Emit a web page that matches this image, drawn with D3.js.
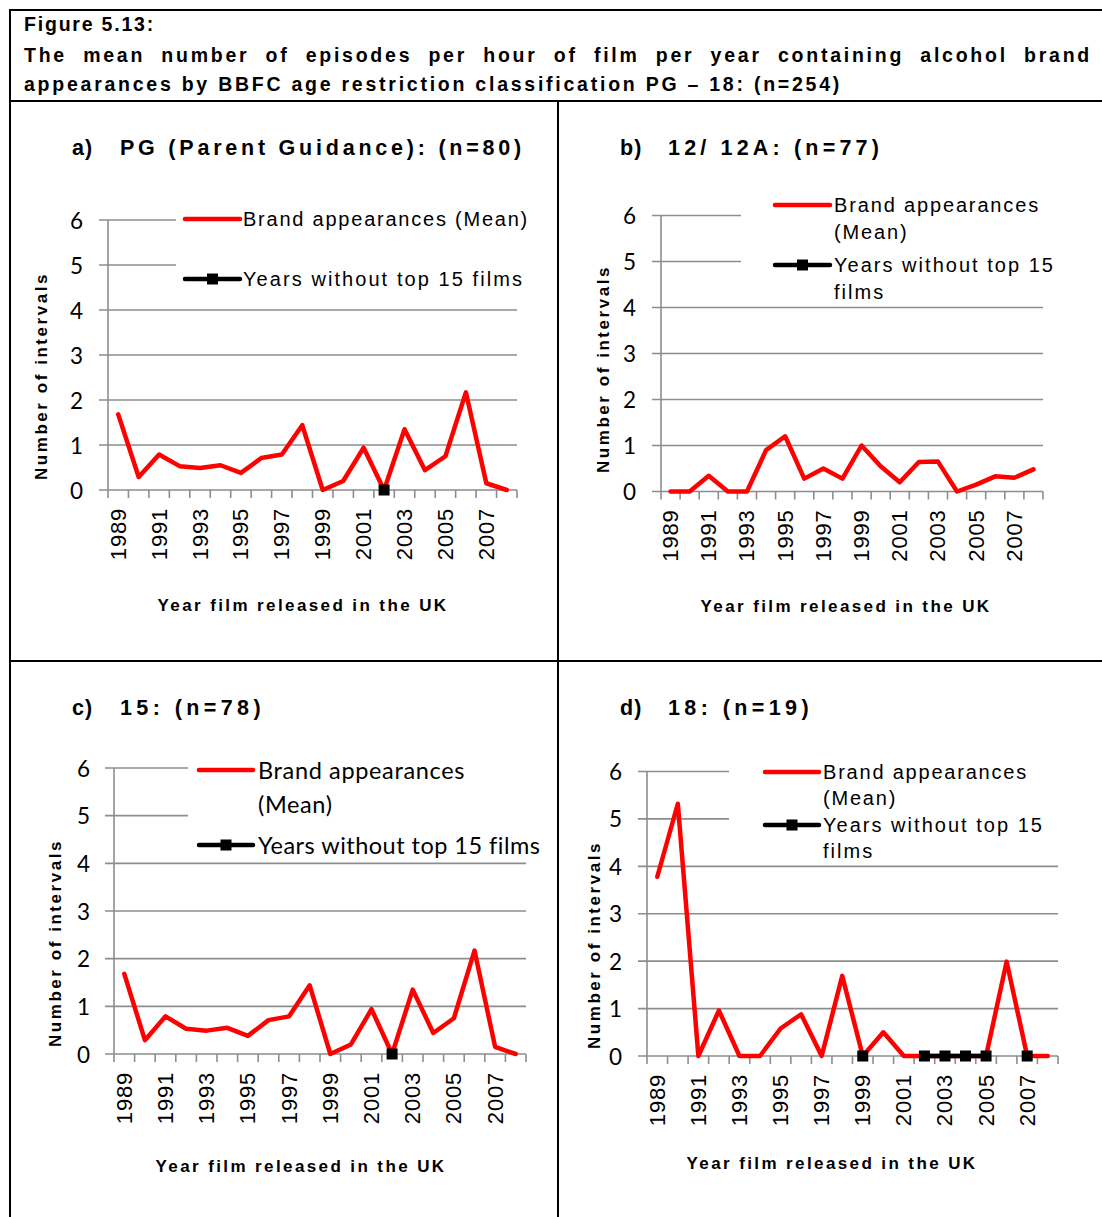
<!DOCTYPE html>
<html>
<head>
<meta charset="utf-8">
<script src="https://cdn.jsdelivr.net/npm/d3@7"></script>
<style>
  body { margin: 0; background: #fff; }
  svg { display: block; }
</style>
</head>
<body>
<svg id="fig" width="1102" height="1217"></svg>
<script>
// ---- data ----
const years = [1989, 1990, 1991, 1992, 1993, 1994, 1995, 1996, 1997, 1998,
               1999, 2000, 2001, 2002, 2003, 2004, 2005, 2006, 2007, 2008];
const yearTickLabels = ["1989", "1991", "1993", "1995", "1997", "1999", "2001", "2003", "2005", "2007"];
const valueTicks = [0, 1, 2, 3, 4, 5, 6];

// mean brand-appearance episodes per hour, by classification
const pgMean      = [1.68, 0.29, 0.79, 0.53, 0.49, 0.55, 0.38, 0.71, 0.79, 1.44, 0, 0.2, 0.94, 0, 1.35, 0.44, 0.75, 2.17, 0.15, 0];
const twelveMean  = [0, 0, 0.34, 0, 0, 0.9, 1.2, 0.28, 0.5, 0.28, 1.0, 0.55, 0.2, 0.64, 0.65, 0, 0.15, 0.33, 0.3, 0.48];
const fifteenMean = [1.68, 0.29, 0.79, 0.53, 0.49, 0.55, 0.38, 0.71, 0.79, 1.44, 0, 0.2, 0.94, 0, 1.35, 0.44, 0.75, 2.17, 0.15, 0];
const eighteenMean = [3.78, 5.32, 0, 0.96, 0, 0, 0.58, 0.88, 0, 1.69, 0, 0.5, 0, 0, 0, 0, 0, 1.99, 0, 0];

// years without any of the top 15 films (null = year had top films)
const pgGaps       = [null, null, null, null, null, null, null, null, null, null, null, null, null, 0, null, null, null, null, null, null];
const twelveGaps   = [null, null, null, null, null, null, null, null, null, null, null, null, null, null, null, null, null, null, null, null];
const fifteenGaps  = [null, null, null, null, null, null, null, null, null, null, null, null, null, 0, null, null, null, null, null, null];
const eighteenGaps = [null, null, null, null, null, null, null, null, null, null, 0, null, null, 0, 0, 0, 0, null, 0, null];

const headerLines = [
  "Figure 5.13:",
  "The mean number of episodes per hour of film per year containing alcohol brand",
  "appearances by BBFC age restriction classification PG \u2013 18: (n=254)"
];
const panelLetters = ["a)", "b)", "c)", "d)"];
const panelNames = ["PG (Parent Guidance): (n=80)", "12/ 12A: (n=77)", "15: (n=78)", "18: (n=19)"];
const yTitle = "Number of intervals";
const xTitle = "Year film released in the UK";

// ---- drawing ----
const svg = d3.select("#fig");
const ARIAL = "'Liberation Sans', Arial, sans-serif";
const CALIBRI = "Lato, 'Open Sans', sans-serif";
const GRID = "#8d8d8d";
const RED = "#ff0000";

// stretch a text element's tracking so that it spans `target` pixels
function fit(sel, target) {
  const n = sel.text().length;
  const w = sel.node().getComputedTextLength();
  const ls = (target - w) / n;
  sel.attr("letter-spacing", ls);
  return ls;
}

// table frame
const frame = svg.append("g").attr("stroke", "#000").attr("stroke-width", 2);
frame.append("line").attr("x1", 9).attr("x2", 1102).attr("y1", 10).attr("y2", 10);
frame.append("line").attr("x1", 10).attr("x2", 10).attr("y1", 9).attr("y2", 1217);
frame.append("line").attr("x1", 9).attr("x2", 1102).attr("y1", 101).attr("y2", 101);
frame.append("line").attr("x1", 9).attr("x2", 1102).attr("y1", 661).attr("y2", 661);
frame.append("line").attr("x1", 558).attr("x2", 558).attr("y1", 101).attr("y2", 1217);

// header
const hdr = svg.append("g").attr("font-family", ARIAL).attr("font-weight", "bold")
  .attr("font-size", 19.5).attr("fill", "#000");
const h1 = hdr.append("text").attr("x", 24).attr("y", 24).attr("dominant-baseline", "central").text(headerLines[0]);
fit(h1, 131);
const h3 = hdr.append("text").attr("x", 24).attr("y", 84).attr("dominant-baseline", "central").text(headerLines[2]);
const hls = fit(h3, 818);
// justified line: spread words across the full width
(function justify(line, x0, x1, y) {
  const words = line.split(" ");
  const nodes = words.map(w => hdr.append("text").attr("y", y).attr("dominant-baseline", "central")
    .attr("letter-spacing", hls).text(w));
  const widths = nodes.map(n => n.node().getComputedTextLength());
  const gap = (x1 - x0 - d3.sum(widths)) / (words.length - 1);
  let cx = x0;
  nodes.forEach((n, i) => { n.attr("x", cx); cx += widths[i] + gap; });
})(headerLines[1], 24, 1092, 55);

const panels = [
  { x0: 108, x1: 517, y0: 490, y6: 220, tickRight: 83, titleY: 148, lx: 72, nx: 120, nameW: 405,
    yTitleX: 41, yTitleY: 376, xTitleX: 303, xTitleY: 605,
    legend: { font: ARIAL, size: 20, l1: 185, l2: 240, tx: 243, lead: 27,
      items: [{ y: 219, lines: ["Brand appearances (Mean)"], w: 286 },
              { y: 279, lines: ["Years without top 15 films"], w: 281 }],
      bg: [176, 198, 350, 100] },
    mean: pgMean, gaps: pgGaps },
  { x0: 661, x1: 1043, y0: 491.5, y6: 215.5, tickRight: 636, titleY: 148, lx: 620, nx: 668, nameW: 215,
    yTitleX: 603, yTitleY: 369, xTitleX: 846, xTitleY: 606,
    legend: { font: ARIAL, size: 20, l1: 775, l2: 830, tx: 834, lead: 27,
      items: [{ y: 205, lines: ["Brand appearances", "(Mean)"], w: 206 },
              { y: 265, lines: ["Years without top 15", "films"], w: 221 }],
      bg: [741, 188, 310, 112] },
    mean: twelveMean, gaps: twelveGaps },
  { x0: 114, x1: 526, y0: 1054, y6: 768, tickRight: 90, titleY: 708, lx: 72, nx: 120, nameW: 145,
    yTitleX: 55, yTitleY: 943, xTitleX: 301, xTitleY: 1166,
    legend: { font: CALIBRI, size: 23.5, l1: 199, l2: 253, tx: 258, lead: 34,
      items: [{ y: 770, lines: ["Brand appearances", "(Mean)"], w: 207 },
              { y: 845, lines: ["Years without top 15 films"], w: 282 }],
      bg: [188, 750, 345, 110] },
    mean: fifteenMean, gaps: fifteenGaps },
  { x0: 647, x1: 1058, y0: 1056, y6: 771.5, tickRight: 622, titleY: 708, lx: 620, nx: 668, nameW: 145,
    yTitleX: 594, yTitleY: 945, xTitleX: 832, xTitleY: 1163,
    legend: { font: ARIAL, size: 20, l1: 765, l2: 819, tx: 823, lead: 26,
      items: [{ y: 772, lines: ["Brand appearances", "(Mean)"], w: 205 },
              { y: 825, lines: ["Years without top 15", "films"], w: 221 }],
      bg: [729, 755, 330, 107] },
    mean: eighteenMean, gaps: eighteenGaps }
];

panels.forEach((p, pi) => {
  const g = svg.append("g");
  const x = d3.scaleBand().domain(years).range([p.x0, p.x1]);
  const cx = d => x(d) + x.bandwidth() / 2;
  const y = d3.scaleLinear().domain([0, 6]).range([p.y0, p.y6]);

  // horizontal gridlines (with their left tick stubs)
  g.append("g").selectAll("line").data(valueTicks).join("line")
    .attr("x1", p.x0 - 9).attr("x2", p.x1)
    .attr("y1", d => y(d)).attr("y2", d => y(d))
    .attr("stroke", GRID).attr("stroke-width", 1.6);

  // value axis
  g.append("line").attr("x1", p.x0).attr("x2", p.x0).attr("y1", y(0)).attr("y2", y(6))
    .attr("stroke", GRID).attr("stroke-width", 1.6);

  // category axis ticks on band edges
  const edges = years.map(d => x(d)).concat([p.x1]);
  g.append("g").selectAll("line").data(edges).join("line")
    .attr("x1", d => d).attr("x2", d => d).attr("y1", y(0)).attr("y2", y(0) + 8)
    .attr("stroke", GRID).attr("stroke-width", 1.6);

  // value tick labels
  g.append("g").selectAll("text").data(valueTicks).join("text")
    .attr("x", p.tickRight).attr("y", d => y(d)).attr("text-anchor", "end")
    .attr("dominant-baseline", "central").attr("font-family", CALIBRI).attr("font-size", 22.5)
    .attr("fill", "#000").text(d => d);

  // year labels, rotated
  g.append("g").selectAll("text").data(yearTickLabels).join("text")
    .attr("transform", d => `translate(${cx(+d)},${y(0) + 18}) rotate(-90)`)
    .attr("text-anchor", "end").attr("dominant-baseline", "central")
    .attr("font-family", ARIAL).attr("font-size", 22).attr("letter-spacing", 0.8)
    .attr("fill", "#000").text(d => d);

  // legend backdrop, then legend
  const L = p.legend;
  g.append("rect").attr("x", L.bg[0]).attr("y", L.bg[1]).attr("width", L.bg[2]).attr("height", L.bg[3])
    .attr("fill", "#fff");
  L.items.forEach((it, k) => {
    g.append("line").attr("x1", L.l1).attr("x2", L.l2).attr("y1", it.y).attr("y2", it.y)
      .attr("stroke", k === 0 ? RED : "#000").attr("stroke-width", 4.5).attr("stroke-linecap", "round");
    if (k === 1) {
      g.append("rect").attr("x", (L.l1 + L.l2) / 2 - 5.5).attr("y", it.y - 5.5)
        .attr("width", 11).attr("height", 11).attr("fill", "#000");
    }
    let ls = 0;
    it.lines.forEach((t, j) => {
      const tx = g.append("text").attr("x", L.tx).attr("y", it.y + j * L.lead)
        .attr("dominant-baseline", "central").attr("font-family", L.font).attr("font-size", L.size)
        .attr("fill", "#000").text(t);
      if (j === 0) ls = fit(tx, it.w); else tx.attr("letter-spacing", ls);
    });
  });

  // series: mean line
  const line = d3.line().x((d, i) => cx(years[i])).y(d => y(d));
  g.append("path").datum(p.mean).attr("d", line)
    .attr("fill", "none").attr("stroke", RED).attr("stroke-width", 4.5)
    .attr("stroke-linejoin", "round").attr("stroke-linecap", "round");

  // series: years without top films (broken where undefined)
  const gapLine = d3.line().defined(d => d !== null).x((d, i) => cx(years[i])).y(d => y(d));
  g.append("path").datum(p.gaps).attr("d", gapLine)
    .attr("fill", "none").attr("stroke", "#000").attr("stroke-width", 4.5);
  const pts = p.gaps.map((v, i) => ({ v, yr: years[i] })).filter(d => d.v !== null);
  g.append("g").selectAll("rect").data(pts).join("rect")
    .attr("x", d => cx(d.yr) - 5.5).attr("y", d => y(d.v) - 5.5)
    .attr("width", 11).attr("height", 11).attr("fill", "#000");

  // panel title
  g.append("text").attr("x", p.lx).attr("y", p.titleY).attr("dominant-baseline", "central")
    .attr("font-family", ARIAL).attr("font-weight", "bold").attr("font-size", 21.5)
    .attr("letter-spacing", 1).attr("fill", "#000").text(panelLetters[pi]);
  const nm = g.append("text").attr("x", p.nx).attr("y", p.titleY).attr("dominant-baseline", "central")
    .attr("font-family", ARIAL).attr("font-weight", "bold").attr("font-size", 21.5)
    .attr("fill", "#000").text(panelNames[pi]);
  fit(nm, p.nameW);

  // axis titles
  const yt = g.append("text").attr("transform", `translate(${p.yTitleX},${p.yTitleY}) rotate(-90)`)
    .attr("text-anchor", "middle").attr("dominant-baseline", "central")
    .attr("font-family", ARIAL).attr("font-weight", "bold").attr("font-size", 17)
    .attr("fill", "#000").text(yTitle);
  fit(yt, 208);
  const xt = g.append("text").attr("x", p.xTitleX).attr("y", p.xTitleY)
    .attr("text-anchor", "middle").attr("dominant-baseline", "central")
    .attr("font-family", ARIAL).attr("font-weight", "bold").attr("font-size", 17)
    .attr("fill", "#000").text(xTitle);
  fit(xt, 291);
});
</script>
</body>
</html>
